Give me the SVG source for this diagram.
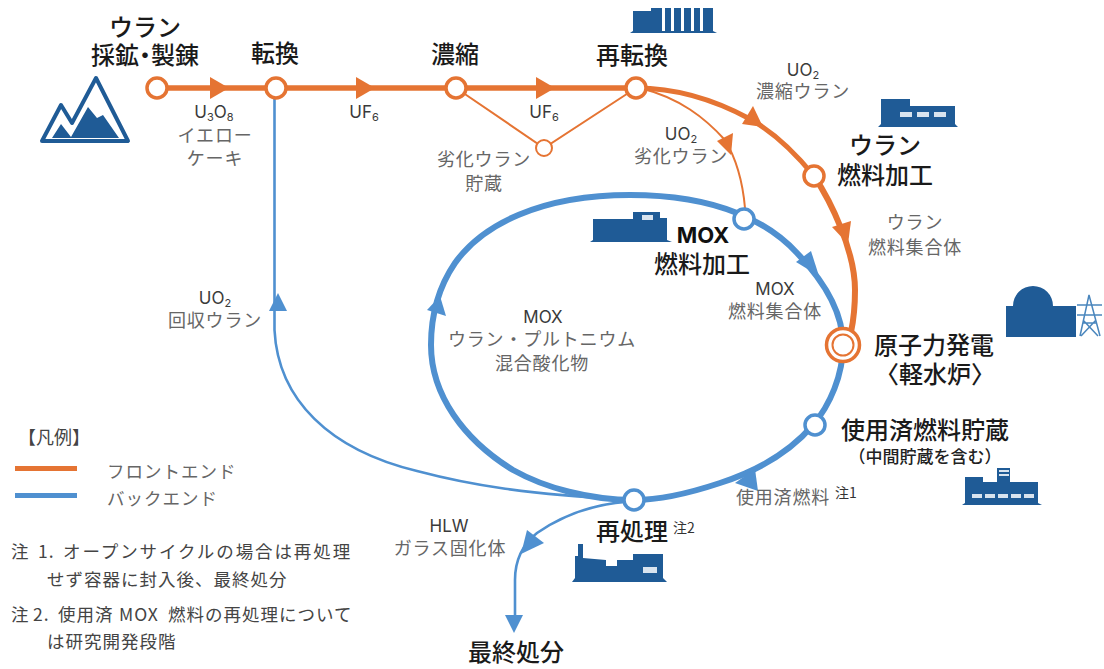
<svg xmlns="http://www.w3.org/2000/svg" width="1104" height="669" viewBox="0 0 1104 669">
<style>
text{font-family:"Noto Sans CJK JP","Noto Sans",sans-serif;text-anchor:middle}
.t{font-size:24px;font-weight:500;fill:#1a1a1a}
.l{font-size:18px;fill:#666;letter-spacing:.8px}
.lat{font-family:"Inter","Noto Sans",sans-serif;font-size:17px;fill:#3a3a3a}
.n{font-size:17.500px;fill:#444;text-anchor:start;letter-spacing:1px}
.sub{font-size:11px}
.sup{font-size:14px;fill:#333}
.o{fill:none;stroke:#e57433;stroke-linecap:round}
.b{fill:none;stroke:#4f90d0;stroke-linecap:round}
.oa{fill:#e57433}.ba{fill:#4f90d0}
.no{fill:#fff;stroke:#e57433;stroke-width:3.500}
.nb{fill:#fff;stroke:#4f90d0;stroke-width:3.500}
.i{fill:#1f5b96}.w{fill:#d9e4ef}
</style>
<g id="connectors">
<path class="o" stroke-width="5.500" d="M157 88H636"/>
<path class="o" stroke-width="2" d="M456 88L544 148L636 88"/>
<path class="o" stroke-width="5" d="M636 88C675 88 715 100 750 119C775 133 797 155 814 176"/>
<path class="o" stroke-width="6" d="M814 176C830 200 855 250 855 290C855 305 854 318 851 332"/>
<path class="o" stroke-width="2" d="M640 88C680 98 705 118 725 140C737 160 743 185 745 208"/>
<path class="b" stroke-width="6" d="M634 500C590 500 545 488 513 470C464 440 431 395 431 345C431 310 440 285 455 263C482 225 540 195 630 195C670 195 705 200 737 213C765 224 785 240 797 253C820 277 843 310 843 345C843 375 830 405 813 425C790 452 760 470 720 483C690 493 660 500 634 500"/>
<path class="b" stroke-width="2.600" d="M274.500 98V330C278 400 330 450 417 471C470 485 530 495 625 499"/>
<path class="b" stroke-width="2.600" d="M625 502C590 505 560 517 537 533C522 545 515 560 515 580V620"/>
<path class="oa" d="M210 77L229 88L210 99Z"/>
<path class="oa" d="M356 77L375 88L356 99Z"/>
<path class="oa" d="M536 77L555 88L536 99Z"/>
<path class="oa" d="M753 106L763 127L742 124Z"/>
<path class="oa" d="M832 227L851 221L848 244Z"/>
<path class="oa" d="M717 141L733 133L731 155Z"/>
<path class="ba" d="M796 262L811 251L819 276Z"/>
<path class="ba" d="M427 310L440 296L446 316Z"/>
<path class="ba" d="M735 483L755 469L758 491Z"/>
<path class="ba" d="M269 311L278 293L287 311Z"/>
<path class="ba" d="M527 530L544 543L521 554Z"/>
<path class="ba" d="M505 615H523L514 633Z"/>
</g>
<g id="mining">
<path d="M42 141L61 105L72 123L96 78L128 141Z" fill="#fff" stroke="#1f5b96" stroke-width="4" stroke-linejoin="round"/>
<path class="i" d="M52 138L61 124L71 137L88 107L97 118L103 115L119 138Z"/>
<circle class="no" cx="157" cy="88" r="10"/>
<text class="t" x="145" y="36">ウラン</text>
<text class="t" x="145" y="64">採鉱<tspan dx="-6">・</tspan><tspan dx="-6">製錬</tspan></text>
</g>
<g id="conversion"><circle class="no" cx="276" cy="88" r="10"/><text class="t" x="275" y="62">転換</text></g>
<g id="enrichment"><circle class="no" cx="456" cy="88" r="10"/><text class="t" x="455" y="63">濃縮</text></g>
<g id="depleted"><circle class="no" cx="544" cy="148" r="8" style="stroke-width:2"/><text class="l" x="484" y="166">劣化ウラン</text><text class="l" x="484" y="190">貯蔵</text></g>
<g id="reconversion">
<circle class="no" cx="636" cy="88" r="10"/><text class="t" x="632" y="64">再転換</text>
<path class="i" d="M630 33L633 31V11H651V8H713V31L717 33Z"/>
<path fill="#fff" d="M662 8h3v23h-3zM671 8h3v23h-3zM681 8h3v23h-3zM691 8h3v23h-3zM700 8h3v23h-3z"/>
</g>
<g id="uranium-fab">
<circle class="no" cx="814" cy="176" r="10"/>
<path class="i" d="M878 127L881 124V99H910V106H955V124L958 127Z"/>
<rect class="w" x="900" y="112" width="12" height="5"/><rect class="w" x="917" y="112" width="12" height="5"/><rect class="w" x="934" y="112" width="12" height="5"/>
<text class="t" x="885" y="154">ウラン</text><text class="t" x="885" y="184">燃料加工</text>
</g>
<g id="mox-fab">
<circle class="nb" cx="744" cy="219" r="10"/>
<path class="i" d="M590 242L593 240V219H633V212H660V218H667V240L672 242Z"/>
<rect class="w" x="642" y="215" width="11" height="5"/>
<text x="703" y="243" style="font-family:Inter,sans-serif;font-size:22px;font-weight:700;fill:#111">MOX</text>
<text class="t" x="702" y="273">燃料加工</text>
</g>
<g id="reactor">
<path class="i" d="M1006 337V306H1013A20 20 0 0 1 1053 306H1076V337Z"/>
<path fill="none" stroke="#4a86bd" stroke-width="1.500" d="M1080 336L1089 295L1100 336M1077 305H1102M1077 315H1102M1083 323H1097M1081 336L1096 320M1098 336L1083 320"/>
<circle cx="843" cy="345" r="16.500" fill="#fff" stroke="#e57433" stroke-width="3.500"/>
<circle cx="843" cy="345" r="10.500" fill="#fff" stroke="#e57433" stroke-width="2"/>
<text class="t" x="934" y="354">原子力発電</text><text class="t" x="935" y="383">〈軽水炉〉</text>
</g>
<g id="storage">
<circle class="nb" cx="815" cy="425" r="10"/>
<path class="i" d="M962 505L965 503V477H983V482H997V468H1010V482H1038V503L1042 505Z"/>
<rect class="w" x="972" y="494" width="10" height="4"/><rect class="w" x="985" y="494" width="10" height="4"/><rect class="w" x="998" y="494" width="10" height="4"/><rect class="w" x="1011" y="494" width="10" height="4"/><rect class="w" x="1024" y="494" width="10" height="4"/>
<rect class="w" x="999" y="470" width="10" height="2"/><rect class="w" x="999" y="474" width="10" height="2"/>
<text class="t" x="925" y="439">使用済燃料貯蔵</text><text x="925" y="463" style="font-size:17px;font-weight:500;fill:#222">（中間貯蔵を含む）</text>
</g>
<g id="reprocessing">
<circle class="nb" cx="634" cy="500" r="10"/>
<path class="i" d="M572 582L575 578V556H578V544H583V558L606 560V566H617V560H633V554H663V578L667 582Z"/>
<rect class="w" x="643" y="567" width="14" height="6"/>
<text class="t" x="632" y="540">再処理</text><text class="sup" x="684" y="533">注2</text>
</g>
<g id="disposal"><text class="t" x="516" y="661">最終処分</text></g>
<g id="labels">
<text class="lat" x="214" y="118">U<tspan class="sub" dy="3">3</tspan><tspan dy="-3">O</tspan><tspan class="sub" dy="3">8</tspan></text>
<text class="l" x="215" y="142">イエロー</text><text class="l" x="215" y="165">ケーキ</text>
<text class="lat" x="364" y="118">UF<tspan class="sub" dy="3">6</tspan></text>
<text class="lat" x="544" y="118">UF<tspan class="sub" dy="3">6</tspan></text>
<text class="lat" x="803" y="76">UO<tspan class="sub" dy="3">2</tspan></text><text class="l" x="803" y="98">濃縮ウラン</text>
<text class="lat" x="681" y="140">UO<tspan class="sub" dy="3">2</tspan></text><text class="l" x="681" y="163">劣化ウラン</text>
<text class="l" x="915" y="229">ウラン</text><text class="l" x="915" y="254">燃料集合体</text>
<text class="lat" x="775" y="295">MOX</text><text class="l" x="775" y="318">燃料集合体</text>
<text class="lat" x="543" y="323">MOX</text><text class="l" x="542" y="346">ウラン・プルトニウム</text><text class="l" x="542" y="370">混合酸化物</text>
<text class="lat" x="215" y="304">UO<tspan class="sub" dy="3">2</tspan></text><text class="l" x="215" y="327">回収ウラン</text>
<text class="l" x="783" y="504">使用済燃料</text><text class="sup" x="846" y="498">注1</text>
<text class="lat" x="449" y="532">HLW</text><text class="l" x="450" y="555">ガラス固化体</text>
</g>
<g id="legend">
<text class="n" x="18" y="444" style="letter-spacing:0;font-size:18px">【凡例】</text>
<rect x="15" y="466" width="62" height="5" fill="#e57433"/>
<rect x="15" y="493" width="62" height="5" fill="#4f90d0"/>
<text class="n" x="107" y="478" style="letter-spacing:1px;fill:#666">フロントエンド</text>
<text class="n" x="107" y="505" style="letter-spacing:1px;fill:#666">バックエンド</text>
<text class="n" x="11" y="558">注<tspan x="38">1.</tspan><tspan x="63" style="letter-spacing:1.900px">オープンサイクルの場合は再処理</tspan></text>
<text class="n" x="47" y="586">せず容器に封入後、最終処分</text>
<text class="n" x="11" y="621">注<tspan x="33">2.</tspan><tspan x="58">使用済</tspan><tspan x="119">MOX</tspan><tspan x="168">燃料の再処理について</tspan></text>
<text class="n" x="47" y="648">は研究開発段階</text>
</g>
</svg>
